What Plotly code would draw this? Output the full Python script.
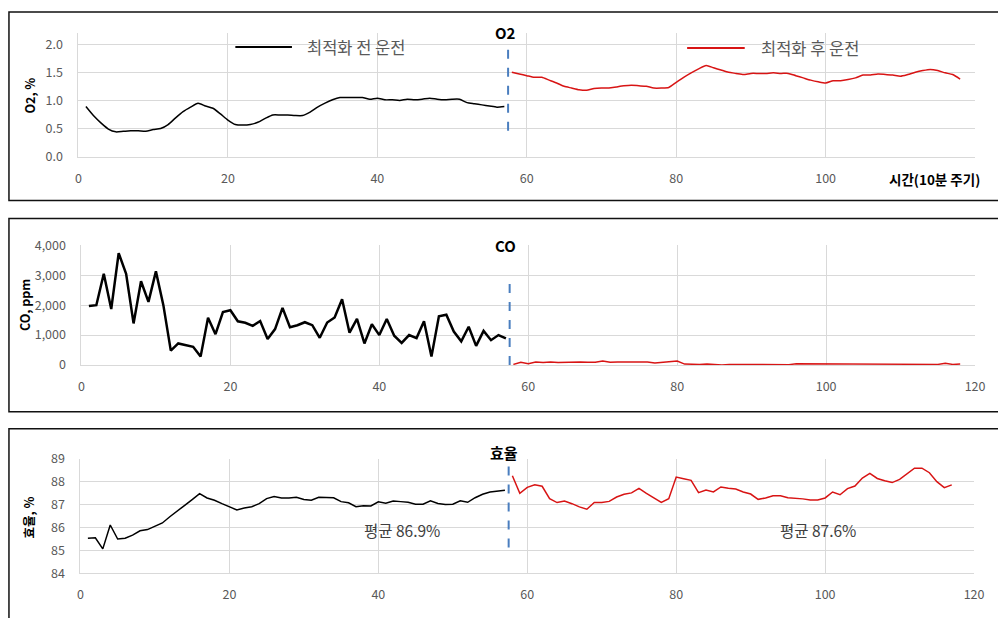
import plotly.graph_objects as go

# ---------------- data ----------------
time_before = list(range(1, 58))          # 1..57
time_after = list(range(58, 119))         # 58..118
time_after_eff = list(range(58, 118))     # 58..117

o2_before = [0.89, 0.73, 0.60, 0.49, 0.44, 0.45, 0.46, 0.46, 0.45, 0.48,
             0.50, 0.57, 0.69, 0.80, 0.88, 0.95, 0.90, 0.86, 0.76, 0.65,
             0.57, 0.56, 0.57, 0.61, 0.68, 0.74, 0.74, 0.74, 0.73, 0.73,
             0.79, 0.88, 0.95, 1.01, 1.05, 1.05, 1.05, 1.05, 1.02, 1.04,
             1.01, 1.01, 1.00, 1.02, 1.01, 1.02, 1.04, 1.02, 1.01, 1.02,
             1.02, 0.96, 0.94, 0.92, 0.90, 0.88, 0.89]
o2_after = [1.50, 1.47, 1.44, 1.41, 1.41, 1.36, 1.31, 1.25, 1.22, 1.19,
            1.18, 1.21, 1.22, 1.22, 1.24, 1.26, 1.27, 1.26, 1.25, 1.22,
            1.22, 1.23, 1.32, 1.41, 1.49, 1.56, 1.62, 1.58, 1.54, 1.50,
            1.48, 1.46, 1.48, 1.48, 1.48, 1.49, 1.48, 1.48, 1.44, 1.40,
            1.36, 1.33, 1.31, 1.35, 1.35, 1.37, 1.40, 1.45, 1.45, 1.47,
            1.46, 1.45, 1.43, 1.46, 1.50, 1.53, 1.55, 1.53, 1.49, 1.46,
            1.38]

co_before = [1970, 2000, 3050, 1870, 3740, 3050, 1390, 2800, 2110, 3130,
             2000, 480, 720, 670, 610, 280, 1580, 1030, 1770, 1830,
             1460, 1410, 1310, 1470, 870, 1200, 1910, 1260, 1330, 1430,
             1330, 910, 1420, 1590, 2200, 1080, 1540, 720, 1360, 1000,
             1540, 980, 740, 1000, 900, 1460, 280, 1630, 1680, 1120,
             790, 1280, 640, 1140, 830, 1000, 890]
co_after = [20, 90, 45, 100, 80, 100, 80, 90, 100, 100,
            90, 90, 130, 90, 100, 100, 110, 90, 100, 70,
            90, 110, 130, 30, 20, 20, 30, 20, 0, 20,
            20, 0, 10, 10, 10, 20, 20, 10, 45, 45,
            30, 45, 30, 45, 45, 30, 30, 30, 30, 20,
            30, 30, 20, 20, 20, 20, 20, 20, 55, 20,
            30]

eff_before = [85.53, 85.55, 85.07, 86.11, 85.50, 85.53, 85.67, 85.86, 85.91, 86.04,
              86.20, 86.47, 86.74, 86.97, 87.22, 87.48, 87.29, 87.19, 87.04, 86.91,
              86.77, 86.85, 86.91, 87.04, 87.26, 87.35, 87.29, 87.29, 87.32, 87.22,
              87.19, 87.32, 87.32, 87.30, 87.13, 87.08, 86.91, 86.95, 86.94, 87.12,
              87.06, 87.16, 87.13, 87.10, 87.02, 87.02, 87.17, 87.05, 87.00, 87.02,
              87.17, 87.10, 87.30, 87.45, 87.55, 87.60, 87.63]
eff_after = [88.26, 87.49, 87.75, 87.86, 87.80, 87.26, 87.09, 87.16, 87.04, 86.90,
             86.80, 87.09, 87.09, 87.14, 87.33, 87.45, 87.51, 87.71, 87.49, 87.28,
             87.10, 87.26, 88.20, 88.13, 88.06, 87.52, 87.64, 87.55, 87.77, 87.71,
             87.68, 87.55, 87.46, 87.23, 87.29, 87.39, 87.39, 87.30, 87.29, 87.25,
             87.20, 87.20, 87.29, 87.55, 87.43, 87.70, 87.81, 88.16, 88.36, 88.14,
             88.04, 87.96, 88.10, 88.35, 88.59, 88.59, 88.39, 88.00, 87.74, 87.86]

x_ticks = [0, 20, 40, 60, 80, 100, 120]
x_ticks_top = ["0", "20", "40", "60", "80", "100", ""]
o2_ticks = [0.0, 0.5, 1.0, 1.5, 2.0]
co_ticks = [0, 1000, 2000, 3000, 4000]
eff_ticks = [84, 85, 86, 87, 88, 89]

switch_x = 57.5
switch_o2 = [0.46, 1.91]
switch_co = [0, 2760]
switch_eff = [85.13, 88.74]

label_before = "최적화 전 운전"
label_after = "최적화 후 운전"
mean_before = "평균 86.9%"
mean_after = "평균 87.6%"

# ---------------- layout helpers ----------------
W, H = 998, 618
# the captured picture shows the figure slightly shrunk; positions below are
# given in target-picture pixels and converted back to figure pixels
SX, OX = 0.994, 1.0
SY, OY = 0.972, 10.0
FONT = "Noto Sans CJK KR"
BLACK = "#000000"
RED = "#d81414"
BLUE = "#4a7ebf"
GRID = "#d9d9d9"
TICK = "#595959"


def px_x(p):
    return ((p - OX) / SX) / W


def px_y(p):
    return 1 - ((p - OY) / SY) / H


fig = go.Figure()

# O2
fig.add_trace(go.Scatter(x=time_before, y=o2_before, mode="lines",
                         line=dict(color=BLACK, width=1.5, shape="spline", smoothing=0.6),
                         xaxis="x", yaxis="y", showlegend=False))
fig.add_trace(go.Scatter(x=time_after, y=o2_after, mode="lines",
                         line=dict(color=RED, width=1.5, shape="spline", smoothing=0.6),
                         xaxis="x", yaxis="y", showlegend=False))
# CO
fig.add_trace(go.Scatter(x=time_before, y=co_before, mode="lines",
                         line=dict(color=BLACK, width=2.5),
                         xaxis="x2", yaxis="y2", showlegend=False))
fig.add_trace(go.Scatter(x=time_after, y=co_after, mode="lines",
                         line=dict(color=RED, width=1.5),
                         xaxis="x2", yaxis="y2", showlegend=False))
# Efficiency
fig.add_trace(go.Scatter(x=time_before, y=eff_before, mode="lines",
                         line=dict(color=BLACK, width=1.5),
                         xaxis="x3", yaxis="y3", showlegend=False))
fig.add_trace(go.Scatter(x=time_after_eff, y=eff_after, mode="lines",
                         line=dict(color=RED, width=1.5),
                         xaxis="x3", yaxis="y3", showlegend=False))

# switch lines
for xa, ya, ext in (("x", "y", switch_o2), ("x2", "y2", switch_co), ("x3", "y3", switch_eff)):
    fig.add_shape(type="line", xref=xa, yref=ya, x0=switch_x, x1=switch_x,
                  y0=ext[0], y1=ext[1], line=dict(color=BLUE, width=2, dash="dash"))

# panel frames
for top, bottom in ((11.0, 200), (218, 412), (429, 660)):
    fig.add_shape(type="rect", xref="paper", yref="paper",
                  x0=px_x(7), x1=px_x(1030), y0=px_y(bottom), y1=px_y(top),
                  line=dict(color="#111111", width=1.5), fillcolor="rgba(0,0,0,0)")

# legend samples
fig.add_shape(type="line", xref="paper", yref="paper", x0=px_x(235), x1=px_x(292),
              y0=px_y(46), y1=px_y(46), line=dict(color=BLACK, width=2))
fig.add_shape(type="line", xref="paper", yref="paper", x0=px_x(690), x1=px_x(748),
              y0=px_y(47), y1=px_y(47), line=dict(color=RED, width=2))

tickfont = dict(family=FONT, size=12.5, color=TICK)


def xaxis_cfg(domain, anchor, ticktext):
    return dict(domain=domain, anchor=anchor, range=[0, 120], tickvals=x_ticks,
                ticktext=ticktext, showgrid=True, gridcolor=GRID, gridwidth=1,
                zeroline=False, showline=True, linecolor=GRID, linewidth=1,
                ticks="", tickfont=tickfont, ticklabelstandoff=10, fixedrange=True,
                ticklabeloverflow="allow")


def yaxis_cfg(domain, anchor, rng, vals, fmt):
    return dict(domain=domain, anchor=anchor, range=rng, tickvals=vals,
                tickformat=fmt, showgrid=True, gridcolor=GRID, gridwidth=1,
                zeroline=False, showline=True, linecolor=GRID, linewidth=1,
                ticks="", tickfont=tickfont, ticklabelstandoff=12, fixedrange=True)


fig.update_layout(
    width=W, height=H,
    margin=dict(l=0, r=0, t=0, b=0),
    paper_bgcolor="white", plot_bgcolor="white",
    font=dict(family=FONT),
    xaxis=xaxis_cfg([px_x(77), px_x(980)], "y", x_ticks_top),
    yaxis=yaxis_cfg([px_y(156), px_y(32)], "x", [0, 2.2], o2_ticks, ".1f"),
    xaxis2=xaxis_cfg([px_x(80), px_x(980)], "y2", [str(v) for v in x_ticks]),
    yaxis2=yaxis_cfg([px_y(365), px_y(245)], "x2", [0, 4000], co_ticks, ",d"),
    xaxis3=xaxis_cfg([px_x(79), px_x(979)], "y3", [str(v) for v in x_ticks]),
    yaxis3=yaxis_cfg([px_y(574), px_y(459)], "x3", [84, 89], eff_ticks, "d"),
)

ann = []
# titles
for txt, cx, cy in (("O2", 507, 32), ("CO", 507, 245), ("효율", 506, 453)):
    ann.append(dict(text=f"<b>{txt}</b>", x=px_x(cx), y=px_y(cy), xref="paper", yref="paper",
                    showarrow=False, xanchor="center", yanchor="middle",
                    font=dict(family=FONT, size=15, color="#000000")))
# y-axis titles
for txt, cx, cy in (("O2, %", 28, 95), ("CO, ppm", 22, 305), ("효율, %", 27, 518)):
    ann.append(dict(text=f"<b>{txt}</b>", x=px_x(cx), y=px_y(cy), xref="paper", yref="paper",
                    showarrow=False, textangle=-90, xanchor="center", yanchor="middle",
                    font=dict(family=FONT, size=12.5, color="#000000")))
# x-axis title (top panel)
ann.append(dict(text="<b>시간(10분 주기)</b>", x=px_x(987), y=px_y(178), xref="paper", yref="paper",
                showarrow=False, xanchor="right", yanchor="middle",
                font=dict(family=FONT, size=13.5, color="#000000")))
# legend texts
for txt, lx, ly in ((label_before, 305, 46), (label_after, 762, 47)):
    ann.append(dict(text=txt, x=px_x(lx), y=px_y(ly), xref="paper", yref="paper",
                    showarrow=False, xanchor="left", yanchor="middle",
                    font=dict(family=FONT, size=16.5, color=TICK)))
# mean texts
for txt, cx, cy in ((mean_before, 403, 530), (mean_after, 822, 530)):
    ann.append(dict(text=txt, x=px_x(cx), y=px_y(cy), xref="paper", yref="paper",
                    showarrow=False, xanchor="center", yanchor="middle",
                    font=dict(family=FONT, size=15.5, color="#404040")))

fig.update_layout(annotations=ann)
fig.write_html("out.html")
